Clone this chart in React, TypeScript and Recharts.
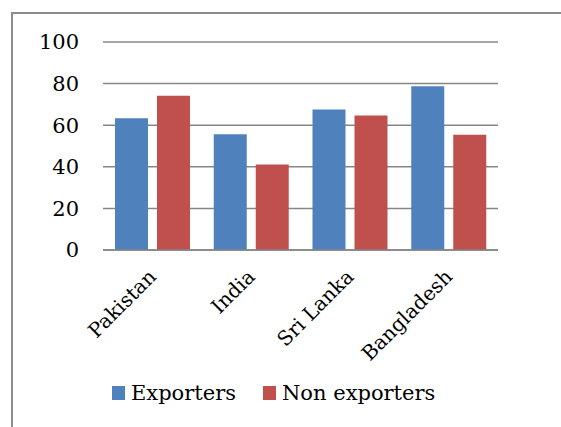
import React from "react";
import { Bar, BarChart, CartesianGrid, Legend, XAxis, YAxis } from "recharts";

const countries = ["Pakistan", "India", "Sri Lanka", "Bangladesh"];
const exporters = [63.3, 55.7, 67.6, 78.7];
const nonExporters = [74.2, 41.1, 64.7, 55.4];
const yTicks = [0, 20, 40, 60, 80, 100];

const data = countries.map((country, i) => ({
  country,
  exporters: exporters[i],
  nonExporters: nonExporters[i],
}));

const FONT = "'DejaVu Serif', serif";

function CountryTick({ x, y, payload }: any) {
  const tx = x + 5;
  const ty = y + 20;
  return (
    <text
      x={tx}
      y={ty}
      transform={`rotate(-45, ${tx}, ${ty})`}
      textAnchor="end"
      fontFamily={FONT}
      fontSize={20}
      fill="#000"
    >
      {payload.value}
    </text>
  );
}

function LegendContent() {
  const items = [
    { label: "Exporters", color: "#4F81BD" },
    { label: "Non exporters", color: "#C0504D" },
  ];
  return (
    <div style={{ display: "flex", paddingLeft: 112, fontFamily: FONT, fontSize: 21, color: "#000" }}>
      {items.map((it) => (
        <div key={it.label} style={{ display: "flex", alignItems: "center", marginRight: 27 }}>
          <span style={{ width: 13, height: 14, background: it.color, marginRight: 6, display: "inline-block" }} />
          <span>{it.label}</span>
        </div>
      ))}
    </div>
  );
}

export default function App() {
  return (
    <div style={{ position: "absolute", left: 0, top: 0, width: 561, height: 427, overflow: "hidden", background: "#fff" }}>
      <div
        style={{
          position: "absolute",
          left: 11,
          top: 12,
          width: 560,
          height: 420,
          borderLeft: "2px solid #8c8c8c",
          borderTop: "2px solid #8c8c8c",
        }}
      />
      <div style={{ position: "absolute", left: 0, top: 0 }}>
        <BarChart
          width={561}
          height={427}
          data={data}
          margin={{ top: 42, right: 63, left: 0, bottom: 22 }}
          barGap={9}
          barCategoryGap={12}
        >
          <CartesianGrid vertical={false} stroke="#868686" strokeWidth={1.5} />
          <XAxis
            dataKey="country"
            tick={<CountryTick />}
            tickLine={false}
            axisLine={{ stroke: "#868686", strokeWidth: 1.5 }}
            interval={0}
            height={131}
          />
          <YAxis
            domain={[0, 100]}
            ticks={yTicks}
            width={103}
            axisLine={false}
            tickLine={false}
            tickSize={0}
            tickMargin={24}
            tick={{ fontFamily: FONT, fontSize: 21, fill: "#000" }}
          />
          <Legend verticalAlign="bottom" content={<LegendContent />} wrapperStyle={{ left: 0 }} />
          <Bar dataKey="exporters" name="Exporters" fill="#4F81BD" isAnimationActive={false} />
          <Bar dataKey="nonExporters" name="Non exporters" fill="#C0504D" isAnimationActive={false} />
        </BarChart>
      </div>
    </div>
  );
}
